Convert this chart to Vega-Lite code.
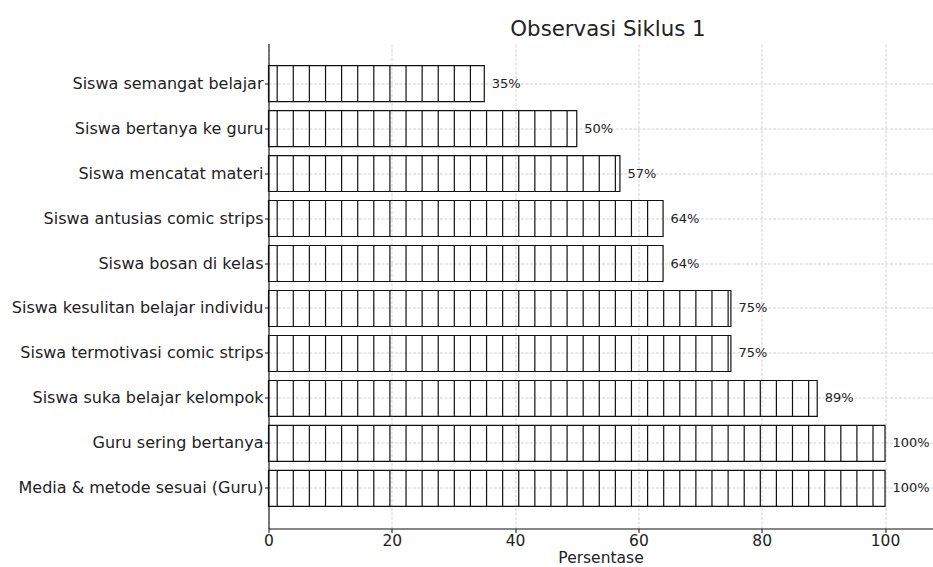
{
  "$schema": "https://vega.github.io/schema/vega-lite/v6.json",
  "width": 664,
  "height": 485,
  "autosize": "none",
  "padding": {"left": 268.5, "top": 43.5, "right": 0, "bottom": 38.5},
  "background": "white",
  "config": {
    "font": "DejaVu Sans",
    "view": {"stroke": null},
    "axis": {
      "domainColor": "#111111",
      "domainWidth": 1.1,
      "tickColor": "#111111",
      "tickWidth": 1,
      "tickSize": 4,
      "labelColor": "#222222",
      "titleColor": "#222222",
      "labelFont": "DejaVu Sans",
      "titleFont": "DejaVu Sans",
      "gridColor": "#c8c8c8",
      "gridDash": [3, 1.5],
      "gridWidth": 0.8
    }
  },
  "title": {
    "text": "Observasi Siklus 1",
    "fontSize": 21.3,
    "fontWeight": "normal",
    "font": "DejaVu Sans",
    "color": "#222222",
    "anchor": "middle",
    "dx": 7.5,
    "offset": 3
  },
  "data": {
    "values": [
      {"label": "Siswa semangat belajar", "value": 35},
      {"label": "Siswa bertanya ke guru", "value": 50},
      {"label": "Siswa mencatat materi", "value": 57},
      {"label": "Siswa antusias comic strips", "value": 64},
      {"label": "Siswa bosan di kelas", "value": 64},
      {"label": "Siswa kesulitan belajar individu", "value": 75},
      {"label": "Siswa termotivasi comic strips", "value": 75},
      {"label": "Siswa suka belajar kelompok", "value": 89},
      {"label": "Guru sering bertanya", "value": 100},
      {"label": "Media & metode sesuai (Guru)", "value": 100}
    ]
  },
  "layer": [
    {
      "mark": {"type": "bar", "fill": "white", "fillOpacity": 0, "stroke": "#111111", "strokeWidth": 1.2},
      "encoding": {
        "y": {
          "field": "label",
          "type": "nominal",
          "sort": null,
          "scale": {"paddingInner": 0.2, "paddingOuter": 0.49},
          "axis": {
            "title": null,
            "grid": true,
            "bandPosition": 0.5,
            "labelFontSize": 16,
            "labelPadding": 1.5,
            "labelLimit": 400
          }
        },
        "x": {
          "field": "value",
          "type": "quantitative",
          "scale": {"domain": [0, 107.7], "nice": false},
          "axis": {
            "values": [0, 20, 40, 60, 80, 100],
            "grid": true,
            "title": "Persentase",
            "titleFontSize": 15.5,
            "titleFontWeight": "normal",
            "titlePadding": 1,
            "labelFontSize": 15.5,
            "labelPadding": 1,
            "labelFlush": false
          }
        }
      }
    },
    {
      "transform": [
        {
          "impute": "value",
          "key": "h",
          "keyvals": [1.41, 4.02, 6.63, 9.25, 11.86, 14.47, 17.08, 19.69, 22.31, 24.92, 27.53, 30.14, 32.75, 35.37, 37.98, 40.59, 43.2, 45.81, 48.43, 51.04, 53.65, 56.26, 58.87, 61.49, 64.1, 66.71, 69.32, 71.93, 74.55, 77.16, 79.77, 82.38, 84.99, 87.61, 90.22, 92.83, 95.44, 98.05],
          "groupby": ["label"],
          "method": "max",
          "frame": [null, null]
        },
        {"filter": "isValid(datum.h) && datum.h < datum.value"}
      ],
      "mark": {"type": "tick", "orient": "vertical", "thickness": 1.2, "size": 36, "color": "#111111", "opacity": 1},
      "encoding": {
        "y": {"field": "label", "type": "nominal", "sort": null},
        "x": {"field": "h", "type": "quantitative"}
      }
    },
    {
      "transform": [{"calculate": "datum.value + '%'", "as": "pct"}],
      "mark": {"type": "text", "align": "left", "baseline": "middle", "dx": 7.5, "fontSize": 13, "color": "#222222", "font": "DejaVu Sans"},
      "encoding": {
        "y": {"field": "label", "type": "nominal", "sort": null},
        "x": {"field": "value", "type": "quantitative"},
        "text": {"field": "pct"}
      }
    }
  ]
}
